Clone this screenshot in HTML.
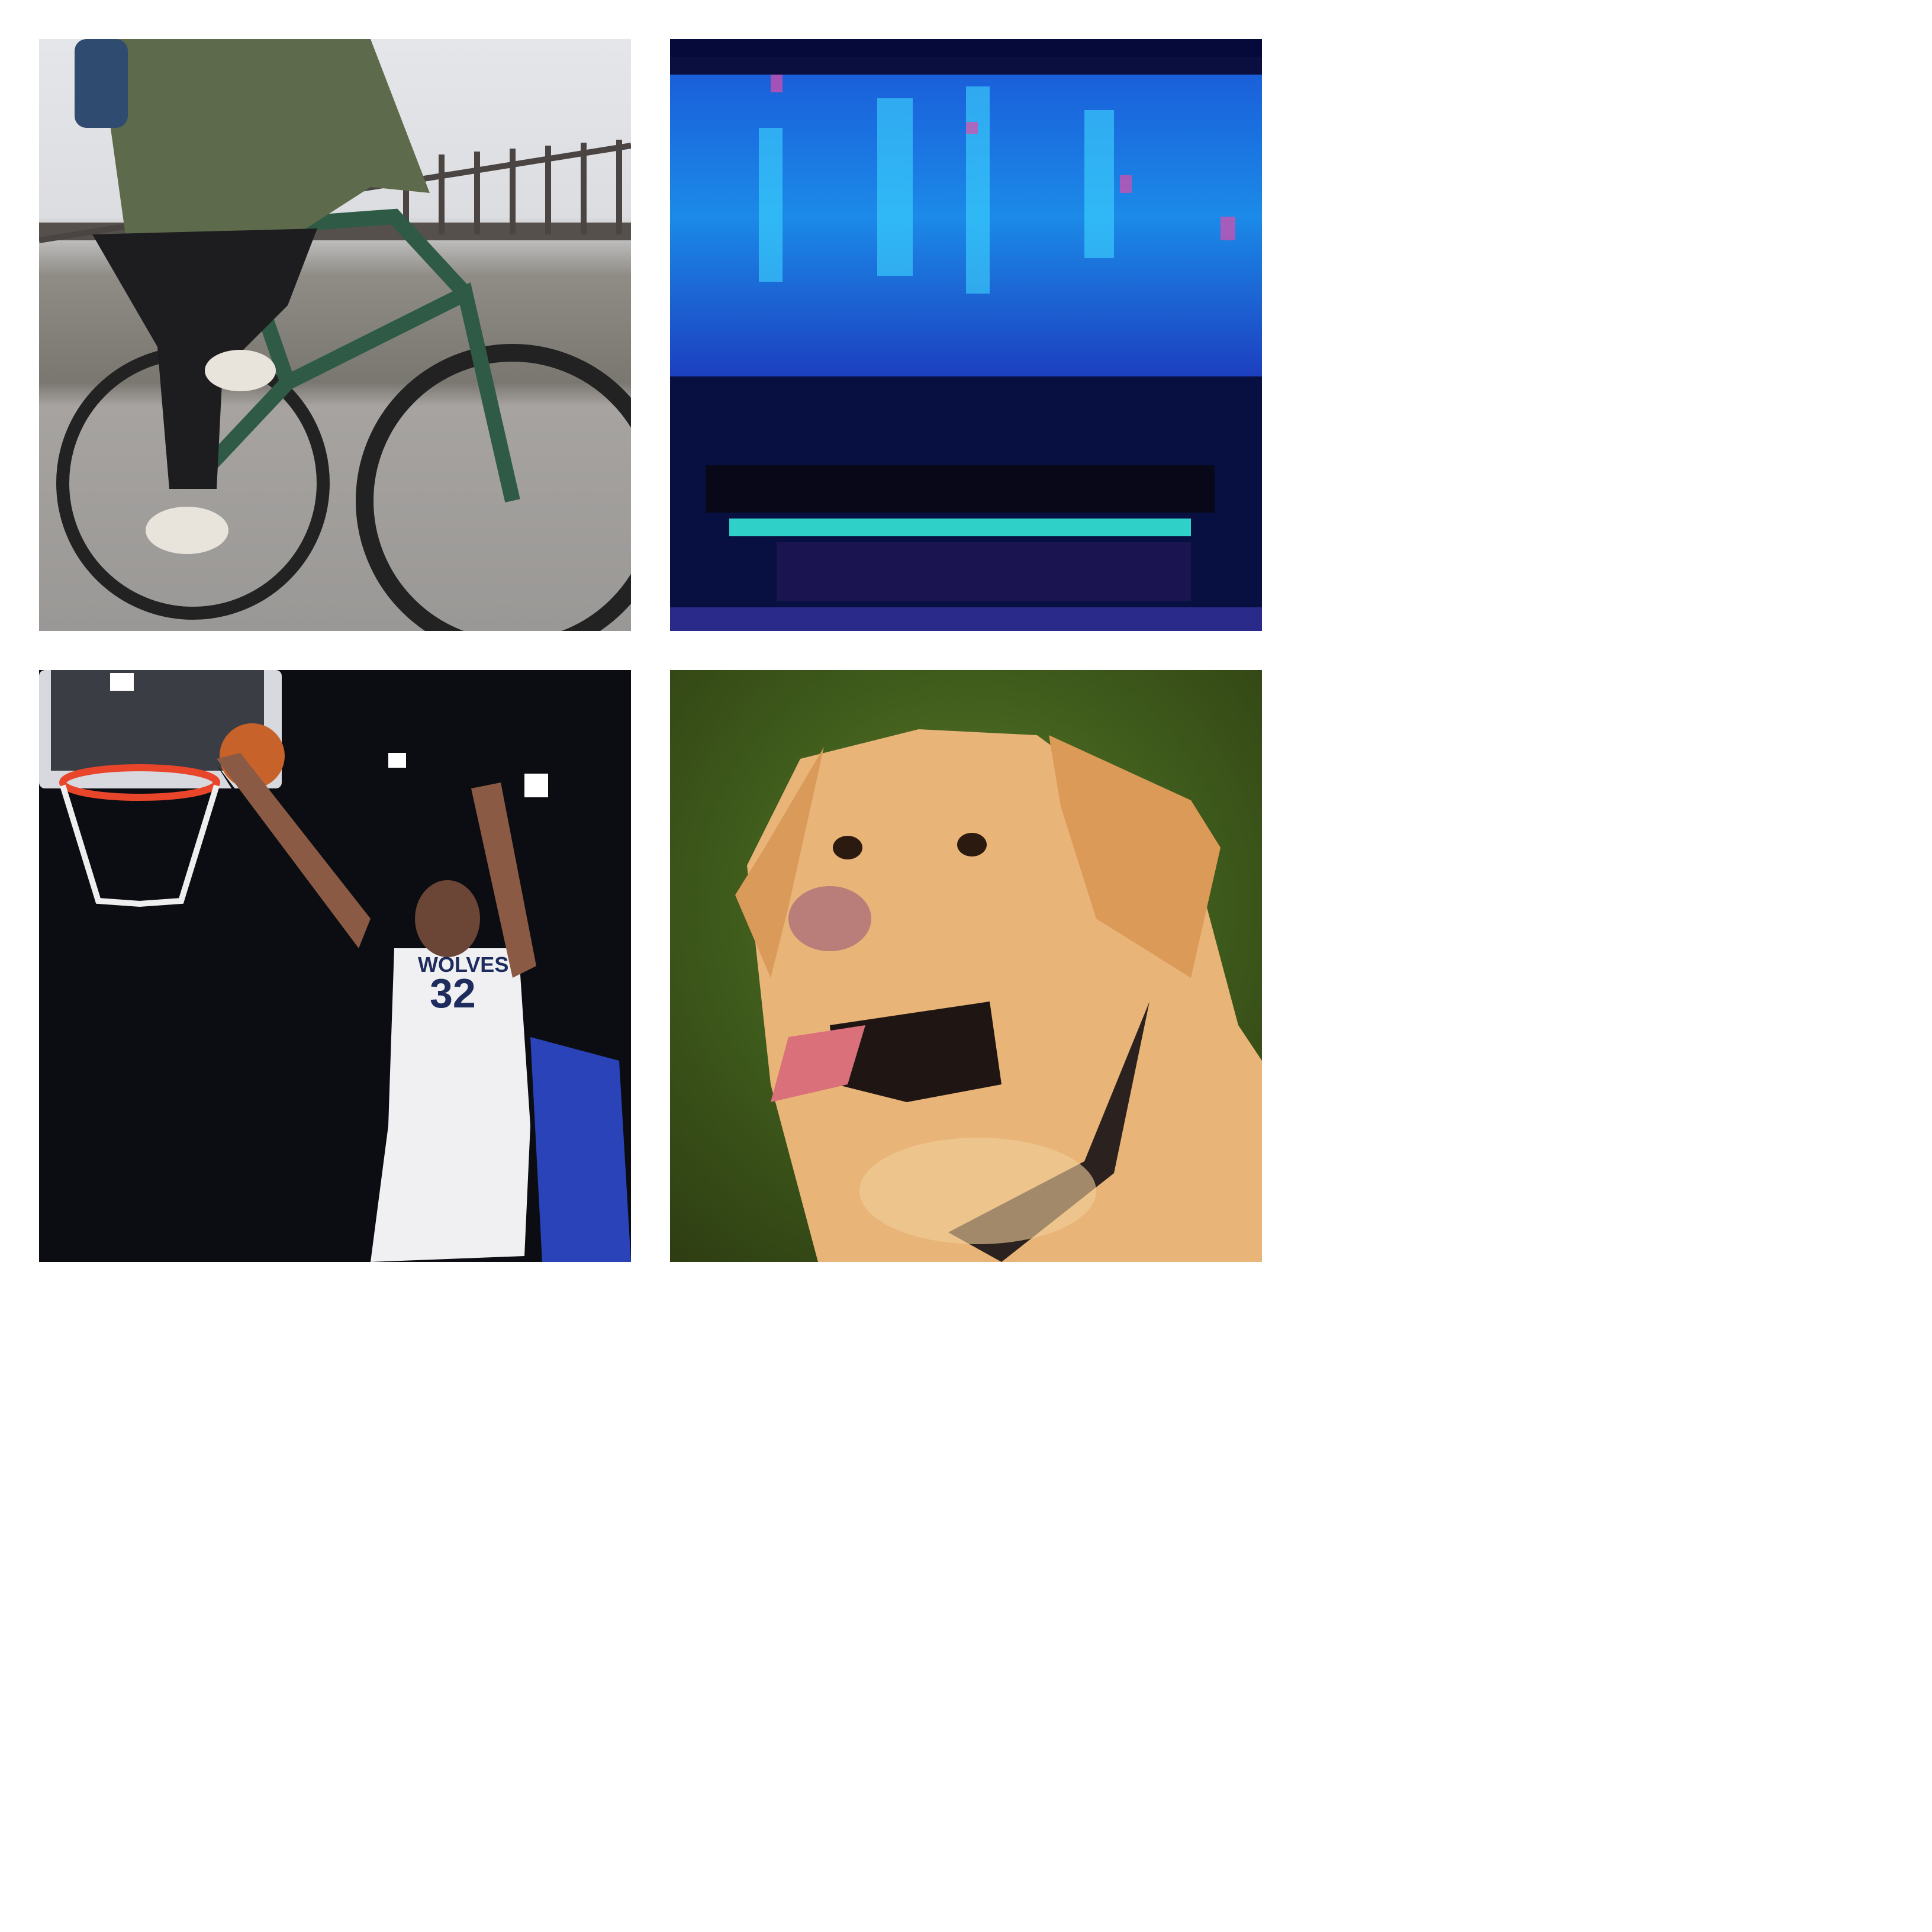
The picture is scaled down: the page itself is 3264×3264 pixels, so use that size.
<!DOCTYPE html>
<html><head><meta charset="utf-8"><style>
html,body{margin:0;padding:0;background:#fff;width:3264px;height:3264px;overflow:hidden;font-family:"Liberation Sans",sans-serif}
.tile{position:absolute;width:1000px;height:1000px;overflow:hidden}
.tile svg{position:absolute;left:0;top:0;width:1000px;height:1000px}
</style></head><body>
<div class="tile" style="left:66px;top:66px;background:linear-gradient(#e4e6ea 0%,#dcdde0 30%,#8f8c86 40%,#7a7771 58%,#a6a3a0 62%,#9a9896 100%)">
<svg viewBox="0 0 1000 1000">
<rect x="0" y="310" width="1000" height="30" fill="#55504c"/>
<g stroke="#4a4542" stroke-width="10">
<line x1="620" y1="200" x2="620" y2="330"/><line x1="680" y1="195" x2="680" y2="330"/><line x1="740" y1="190" x2="740" y2="330"/><line x1="800" y1="185" x2="800" y2="330"/><line x1="860" y1="180" x2="860" y2="330"/><line x1="920" y1="175" x2="920" y2="330"/><line x1="980" y1="170" x2="980" y2="330"/>
<line x1="0" y1="340" x2="1000" y2="180"/></g>
<circle cx="260" cy="750" r="220" fill="none" stroke="#222" stroke-width="22"/>
<circle cx="800" cy="780" r="250" fill="none" stroke="#222" stroke-width="30"/>
<g stroke="#2f5a46" stroke-width="26" fill="none"><path d="M260 750 L420 580 L720 430 L800 780 M420 580 L330 320 L600 300 L720 430"/></g>
<path d="M100 0 L560 0 L660 260 L560 250 L420 340 L150 360 Z" fill="#5e6a4c"/>
<path d="M90 330 L470 320 L420 450 L310 560 L300 760 L220 760 L200 520 Z" fill="#1d1c1e"/>
<ellipse cx="250" cy="830" rx="70" ry="40" fill="#e8e4dc"/><ellipse cx="340" cy="560" rx="60" ry="35" fill="#e8e4dc"/>
<rect x="60" y="0" width="90" height="150" rx="20" fill="#2f4c70"/>
</svg></div>

<div class="tile" style="left:1132px;top:66px;background:#060a3a">
<svg viewBox="0 0 1000 1000">
<defs><linearGradient id="scr" x1="0" y1="0" x2="0" y2="1"><stop offset="0" stop-color="#1a5ad8"/><stop offset=".5" stop-color="#1b8ae8"/><stop offset="1" stop-color="#1c3fc0"/></linearGradient></defs>
<rect x="0" y="30" width="1000" height="540" fill="url(#scr)"/>
<rect x="0" y="30" width="1000" height="30" fill="#0a0f40"/>
<g fill="#3fd7ff" opacity=".6"><rect x="350" y="100" width="60" height="300"/><rect x="500" y="80" width="40" height="350"/><rect x="700" y="120" width="50" height="250"/><rect x="150" y="150" width="40" height="260"/></g>
<g fill="#e04ba8" opacity=".7"><rect x="170" y="60" width="20" height="30"/><rect x="500" y="140" width="20" height="20"/><rect x="760" y="230" width="20" height="30"/><rect x="930" y="300" width="25" height="40"/></g>
<rect x="0" y="570" width="1000" height="430" fill="#071040"/>
<rect x="60" y="720" width="860" height="80" fill="#080818"/>
<rect x="100" y="810" width="780" height="30" fill="#2fd0c8"/>
<rect x="180" y="850" width="700" height="100" fill="#1a1550"/>
<rect x="0" y="960" width="1000" height="40" fill="#2a2a8a"/>
</svg></div>

<div class="tile" style="left:66px;top:1132px;background:#0b0d12">
<svg viewBox="0 0 1000 1000">
<rect x="0" y="0" width="410" height="200" rx="10" fill="#d7d9de"/>
<rect x="20" y="0" width="360" height="170" fill="#3a3d44"/>
<ellipse cx="170" cy="190" rx="130" ry="25" fill="none" stroke="#e8452a" stroke-width="12"/>
<path d="M40 195 L100 390 L170 395 L240 390 L300 195" fill="none" stroke="#eee" stroke-width="10"/>
<circle cx="360" cy="145" r="55" fill="#c8622b"/>
<g fill="#fff"><rect x="590" y="140" width="30" height="25"/><rect x="820" y="175" width="40" height="40"/><rect x="740" y="200" width="35" height="30"/><rect x="630" y="245" width="30" height="30"/><rect x="120" y="5" width="40" height="30"/></g>
<path d="M300 160 L430 330 L560 380 L520 230 L760 200 L830 520 L800 850 L880 1000 L530 1000 L580 850 L560 640 L420 350 Z" fill="#0b0d12"/>
<path d="M600 470 L810 470 L830 770 L820 990 L560 1000 L590 770 Z" fill="#f0f0f2"/>
<path d="M300 150 L340 140 L560 420 L540 470 Z" fill="#8a5a44"/>
<path d="M730 200 L780 190 L840 500 L800 520 Z" fill="#8a5a44"/>
<ellipse cx="690" cy="420" rx="55" ry="65" fill="#6b4535"/>
<path d="M830 620 L980 660 L1000 1000 L850 1000 Z" fill="#2a43b8"/>
<text x="640" y="510" font-size="36" font-weight="bold" fill="#1d2c5c">WOLVES</text>
<text x="660" y="570" font-size="70" font-weight="bold" fill="#1d2c5c">32</text>
</svg></div>

<div class="tile" style="left:1132px;top:1132px;background:radial-gradient(circle at 50% 40%,#5d7a2a 0%,#3f5c1c 50%,#2e3d12 100%)">
<svg viewBox="0 0 1000 1000">
<path d="M250 1000 L170 700 L130 330 L220 150 L420 100 L620 110 L880 300 L960 600 L1000 660 L1000 1000 Z" fill="#e9b477"/>
<path d="M160 300 L260 130 L200 400 L170 520 L110 380 Z" fill="#d99a5a"/>
<path d="M640 110 L880 220 L930 300 L880 520 L720 420 L660 230 Z" fill="#dc9a58"/>
<ellipse cx="270" cy="420" rx="70" ry="55" fill="#b97e7a"/>
<ellipse cx="300" cy="300" rx="25" ry="20" fill="#2a1a10"/><ellipse cx="510" cy="295" rx="25" ry="20" fill="#2a1a10"/>
<path d="M270 600 L540 560 L560 700 L400 730 L280 700 Z" fill="#1f1614"/>
<path d="M200 620 L330 600 L300 700 L170 730 Z" fill="#d9707a"/>
<path d="M810 560 L750 850 L560 1000 L470 950 L700 830 Z" fill="#2b2220"/>
<ellipse cx="520" cy="880" rx="200" ry="90" fill="#f2cf9c" opacity=".6"/>
</svg></div>
</body></html>
